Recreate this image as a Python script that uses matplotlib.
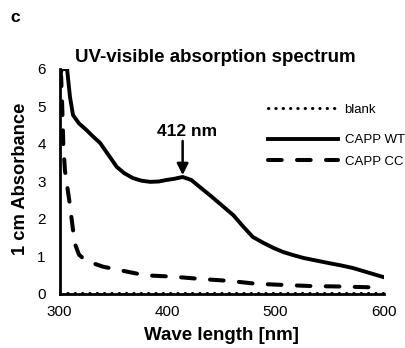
import matplotlib
matplotlib.use("Agg")
import matplotlib.pyplot as plt
from matplotlib.lines import Line2D

plt.rcParams['font.family'] = ['Liberation Sans', 'DejaVu Sans']

# Data
wt_wl = [300, 302, 304, 307, 309.7, 312.5, 318, 325, 331, 337.5, 345, 353, 360, 368, 376, 384, 392, 399,
         406, 414, 422, 430, 439, 448, 461, 470, 479, 489, 498, 507, 516, 526, 538, 550, 561, 572, 586, 600]
wt_abs = [5.7, 6.0, 6.0, 6.0, 5.25, 4.77, 4.55, 4.37, 4.2, 4.03, 3.72, 3.39, 3.22, 3.09, 3.02, 2.99, 3.0, 3.04,
          3.07, 3.12, 3.04, 2.85, 2.64, 2.42, 2.1, 1.8, 1.52, 1.36, 1.23, 1.12, 1.04, 0.96, 0.89, 0.82, 0.76, 0.69, 0.57, 0.45]

cc_wl = [300, 301.5, 302.5, 303.5, 305, 307, 309, 311, 314, 318, 323, 330, 340, 355, 379, 406,
         431, 457, 483, 509, 534, 560, 586, 600]
cc_abs = [5.9, 5.8, 5.0, 4.0, 3.3, 2.9, 2.5, 2.05, 1.36, 1.05, 0.92, 0.83, 0.73, 0.64, 0.5, 0.46,
          0.4, 0.35, 0.27, 0.24, 0.21, 0.2, 0.18, 0.17]

blank_wl = [300, 600]
blank_abs = [0.03, 0.03]

x_ticks = [300, 400, 500, 600]
y_ticks = [0, 1, 2, 3, 4, 5, 6]

dot_style = (0, (0.1, 2.3))
dash_style = (0, (3.4, 3.8))

fig = plt.figure(figsize=(4.06, 3.48), dpi=100)
ax = fig.add_axes([0.1466, 0.1552, 0.798, 0.6466])

ax.plot(blank_wl, blank_abs, color='black', linestyle=dot_style, linewidth=2.2,
        dash_capstyle='round', clip_on=False)
ax.plot(wt_wl, wt_abs, color='black', linewidth=2.8, solid_joinstyle='round')
ax.plot(cc_wl, cc_abs, color='black', linewidth=2.9, linestyle=dash_style,
        dash_capstyle='round')

ax.set_xlim(300, 600)
ax.set_ylim(0, 6)
ax.set_xticks(x_ticks)
ax.set_yticks(y_ticks)
ax.tick_params(axis='x', length=0, labelsize=11, pad=8)
ax.tick_params(axis='y', length=0, labelsize=11, pad=10)
for s in ['top', 'right']:
    ax.spines[s].set_visible(False)
for s in ['left', 'bottom']:
    ax.spines[s].set_linewidth(2)

fig.text(221 / 406, 1 - 335 / 348, 'Wave length [nm]', fontsize=13.5, fontweight='bold',
         ha='center', va='center')
fig.text(21 / 406, 1 - 179 / 348, '1 cm Absorbance', fontsize=13.2, fontweight='bold',
         ha='center', va='center', rotation=90)
fig.text(215.5 / 406, 1 - 58 / 348, 'UV-visible absorption spectrum', fontsize=13.5,
         fontweight='bold', ha='center', va='center')

ax.annotate('', xy=(414, 3.17), xytext=(414, 4.08),
            arrowprops=dict(arrowstyle='-|>', color='black', lw=1.8, mutation_scale=17,
                            shrinkA=0, shrinkB=0))
ax.text(418, 4.32, '412 nm', ha='center', va='center', fontsize=12.5, fontweight='bold')

# Legend entries (handles only, placed like the reference)
entries = [('blank', dict(linestyle=dot_style, linewidth=2.2, dash_capstyle='round'), 110),
           ('CAPP WT', dict(linestyle='-', linewidth=2.8), 140),
           ('CAPP CC', dict(linestyle=dash_style, linewidth=2.9, dash_capstyle='round'), 162)]
for label, kw, ypx in entries:
    h = Line2D([], [], color='black', **kw)
    leg = fig.legend([h], [label], loc='center left',
                     bbox_to_anchor=(268 / 406, 1 - ypx / 348),
                     frameon=False, fontsize=9.5, handlelength=5.3, handletextpad=0.5,
                     borderpad=0, borderaxespad=0)

fig.text(10 / 406, 1 - 17 / 348, 'c', fontsize=12.5, fontweight='bold', ha='left', va='center')

fig.savefig('out.png', dpi=100)
